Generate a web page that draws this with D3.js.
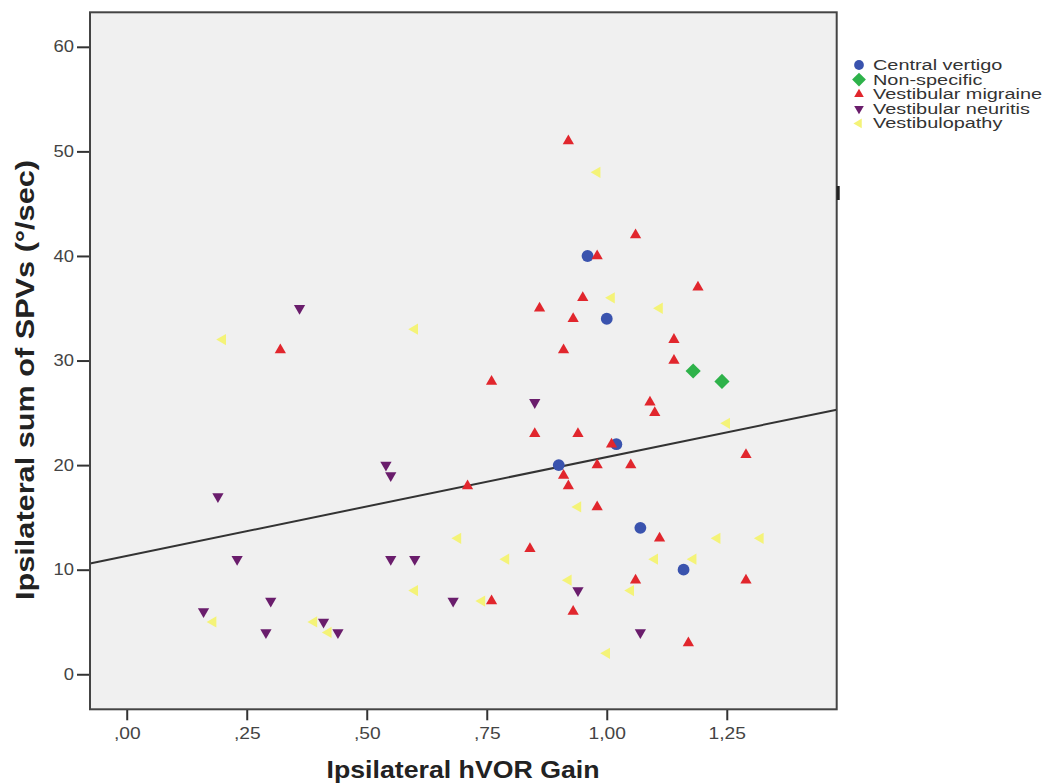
<!DOCTYPE html>
<html>
<head>
<meta charset="utf-8">
<script src="https://cdn.jsdelivr.net/npm/d3@7"></script>
<style>
    body { margin: 0; background: #fff; }
    text { font-family: "Liberation Sans", Arial, sans-serif; }
</style>
</head>
<body>
<script>
//diagnosis groups, in legend order
var groups = ["Central vertigo", "Non-specific", "Vestibular migraine", "Vestibular neuritis", "Vestibulopathy"];

//[hVOR gain, sum of SPVs] for each group
var centralVertigo = [[0.96,40],[1.00,34],[1.02,22],[0.90,20],[1.07,14],[1.16,10]];
var nonSpecific = [[1.18,29],[1.24,28]];
var vestibularMigraine = [[0.92,51],[1.06,42],[0.98,40],[1.19,37],[0.95,36],[0.86,35],[0.93,34],[1.14,32],
    [0.32,31],[0.91,31],[1.14,30],[0.76,28],[1.09,26],[1.10,25],[0.85,23],[0.94,23],[1.01,22],[1.29,21],
    [0.98,20],[1.05,20],[0.91,19],[0.71,18],[0.92,18],[0.98,16],[1.11,13],[0.84,12],[1.06,9],[1.29,9],
    [0.76,7],[0.93,6],[1.17,3]];
var vestibularNeuritis = [[0.36,35],[0.85,26],[0.54,20],[0.55,19],[0.19,17],[0.23,11],[0.55,11],[0.60,11],
    [0.94,8],[0.16,6],[0.30,7],[0.68,7],[0.41,5],[0.29,4],[0.44,4],[1.07,4]];
var vestibulopathy = [[0.98,48],[1.01,36],[1.11,35],[0.20,32],[0.60,33],[1.25,24],[0.94,16],[0.69,13],
    [1.23,13],[1.32,13],[0.79,11],[1.10,11],[1.18,11],[0.92,9],[0.60,8],[1.05,8],[0.74,7],[0.18,5],
    [0.39,5],[0.42,4],[1.00,2]];

//axis ticks and labels
var xTicks = [0, 0.25, 0.5, 0.75, 1, 1.25];
var xTickLabels = [",00", ",25", ",50", ",75", "1,00", "1,25"];
var yTicks = [0, 10, 20, 30, 40, 50, 60];

//fit line: sum = intercept + slope * gain
var fitIntercept = 11.32,
    fitSlope = 9.45;

window.onload = setChart;

function setChart(){

    var width = 1045,
        height = 784;

    var left = 90, right = 836.7, top = 12.3, bottom = 709.3;

    var svg = d3.select("body")
        .append("svg")
        .attr("width", width)
        .attr("height", height);

    var x = d3.scaleLinear().domain([-0.0765, 1.479]).range([left, right]);
    var y = d3.scaleLinear().domain([-3.35, 63.3]).range([bottom, top]);

    //symbol styles per group
    var styles = [
        {data: centralVertigo, type: d3.symbolCircle, size: 110, rotate: 0, color: "#3a53ae"},
        {data: nonSpecific, type: d3.symbolSquare, size: 115, rotate: 45, color: "#2eb24a"},
        {data: vestibularMigraine, type: d3.symbolTriangle, size: 55, rotate: 0, color: "#e1262d"},
        {data: vestibularNeuritis, type: d3.symbolTriangle, size: 55, rotate: 180, color: "#6a1d6c"},
        {data: vestibulopathy, type: d3.symbolTriangle, size: 55, rotate: -90, color: "#f4f378"}
    ];

    //plot background
    svg.append("rect")
        .attr("x", left)
        .attr("y", top)
        .attr("width", right - left)
        .attr("height", bottom - top)
        .attr("fill", "#f0f0f0");

    //stretch text horizontally, like the source image
    function widen(sel, f){
        sel.each(function(){
            var w = this.getComputedTextLength();
            d3.select(this).attr("textLength", w * f).attr("lengthAdjust", "spacingAndGlyphs");
        });
    }

    //x axis
    var xAxis = svg.append("g")
        .attr("transform", "translate(0," + bottom + ")")
        .call(d3.axisBottom(x)
            .tickValues(xTicks)
            .tickFormat(function(d, i){ return xTickLabels[i]; })
            .tickSize(11)
            .tickPadding(7));
    xAxis.select(".domain").remove();
    xAxis.selectAll("line").attr("stroke", "#333").attr("stroke-width", 2);
    xAxis.selectAll("text")
        .attr("fill", "#444")
        .style("font-size", "16px")
        .call(widen, 1.2);

    //y axis
    var yAxis = svg.append("g")
        .attr("transform", "translate(" + left + ",0)")
        .call(d3.axisLeft(y)
            .tickValues(yTicks)
            .tickSize(13)
            .tickPadding(3));
    yAxis.select(".domain").remove();
    yAxis.selectAll("line").attr("stroke", "#333").attr("stroke-width", 2);
    yAxis.selectAll("text")
        .attr("fill", "#444")
        .style("font-size", "16px")
        .call(widen, 1.15);

    //fit line
    var xd = x.domain();
    svg.append("line")
        .attr("x1", x(xd[0]))
        .attr("y1", y(fitIntercept + fitSlope * xd[0]))
        .attr("x2", x(xd[1]))
        .attr("y2", y(fitIntercept + fitSlope * xd[1]))
        .attr("stroke", "#333")
        .attr("stroke-width", 2);

    //points
    styles.forEach(function(s){
        svg.append("g").selectAll("path")
            .data(s.data)
            .enter()
            .append("path")
            .attr("d", d3.symbol().type(s.type).size(s.size))
            .attr("transform", function(d){
                return "translate(" + x(d[0]) + "," + y(d[1]) + ") rotate(" + s.rotate + ")";
            })
            .attr("fill", s.color);
    });

    //frame on top
    svg.append("rect")
        .attr("x", left)
        .attr("y", top)
        .attr("width", right - left)
        .attr("height", bottom - top)
        .attr("fill", "none")
        .attr("stroke", "#444")
        .attr("stroke-width", 2);

    //small mark on right edge
    svg.append("rect")
        .attr("x", right)
        .attr("y", 186)
        .attr("width", 3)
        .attr("height", 14)
        .attr("fill", "#222");

    //axis titles
    svg.append("text")
        .attr("x", 463)
        .attr("y", 778)
        .attr("text-anchor", "middle")
        .attr("textLength", 273)
        .attr("lengthAdjust", "spacingAndGlyphs")
        .style("font-size", "24px")
        .style("font-weight", "bold")
        .attr("fill", "#222")
        .text("Ipsilateral hVOR Gain");

    svg.append("text")
        .attr("transform", "translate(34,380) rotate(-90)")
        .attr("text-anchor", "middle")
        .attr("textLength", 440)
        .attr("lengthAdjust", "spacingAndGlyphs")
        .style("font-size", "25px")
        .style("font-weight", "bold")
        .attr("fill", "#222")
        .text("Ipsilateral sum of SPVs (°/sec)");

    //legend
    var legend = svg.append("g");
    var rows = legend.selectAll("g")
        .data(groups)
        .enter()
        .append("g")
        .attr("transform", function(d, i){ return "translate(859," + (65 + i * 14.6) + ")"; });

    rows.append("path")
        .attr("d", function(d, i){
            var sz = [75, 95, 40, 40, 40][i];
            return d3.symbol().type(styles[i].type).size(sz)();
        })
        .attr("transform", function(d, i){ return "rotate(" + styles[i].rotate + ")"; })
        .attr("fill", function(d, i){ return styles[i].color; });

    rows.append("text")
        .attr("x", 14)
        .attr("y", 5)
        .attr("fill", "#333")
        .style("font-size", "14px")
        .text(function(d){ return d; })
        .call(widen, 1.42);
}
</script>
</body>
</html>
